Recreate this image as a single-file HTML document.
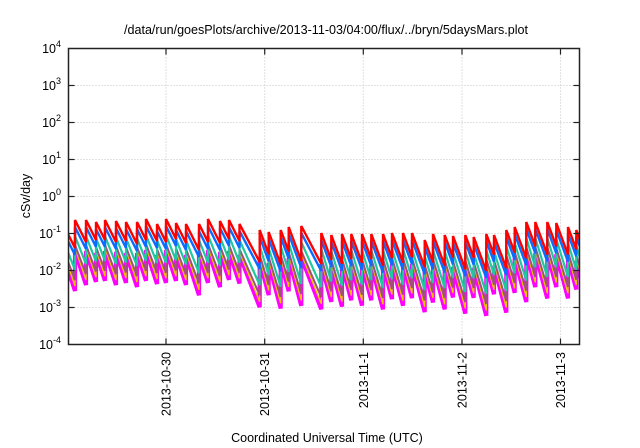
<!DOCTYPE html>
<html>
<head>
<meta charset="utf-8">
<style>
  html,body{margin:0;padding:0;background:#fff;}
  svg{display:block;}
  text{font-family:"Liberation Sans", Arial, sans-serif; fill:#000;}
</style>
</head>
<body>
<svg id="chart" width="640" height="448" viewBox="0 0 640 448" xmlns="http://www.w3.org/2000/svg">
  <rect x="0" y="0" width="640" height="448" fill="#fff"/>
  <defs>
    <clipPath id="plotclip"><rect x="68.5" y="48.5" width="511" height="296"/></clipPath>
  </defs>

  <!-- title -->
  <text x="326" y="34" text-anchor="middle" font-size="12.5" textLength="404" lengthAdjust="spacingAndGlyphs">/data/run/goesPlots/archive/2013-11-03/04:00/flux/../bryn/5daysMars.plot</text>

  <!-- grid -->
  <g stroke="#c4c4c4" stroke-width="1" stroke-dasharray="1,2" fill="none">
    <line x1="68.5" x2="579.5" y1="85.5" y2="85.5"/>
    <line x1="68.5" x2="579.5" y1="122.5" y2="122.5"/>
    <line x1="68.5" x2="579.5" y1="159.5" y2="159.5"/>
    <line x1="68.5" x2="579.5" y1="196.5" y2="196.5"/>
    <line x1="68.5" x2="579.5" y1="233.5" y2="233.5"/>
    <line x1="68.5" x2="579.5" y1="270.5" y2="270.5"/>
    <line x1="68.5" x2="579.5" y1="307.5" y2="307.5"/>
    <line x1="166" x2="166" y1="48.5" y2="344.5"/>
    <line x1="264.7" x2="264.7" y1="48.5" y2="344.5"/>
    <line x1="363.3" x2="363.3" y1="48.5" y2="344.5"/>
    <line x1="462" x2="462" y1="48.5" y2="344.5"/>
    <line x1="560.5" x2="560.5" y1="48.5" y2="344.5"/>
  </g>

  <!-- data -->
  <g id="data" clip-path="url(#plotclip)" fill="none" stroke-linejoin="miter" stroke-linecap="butt"></g>

  <!-- ticks -->
  <g stroke="#222" stroke-width="1.2">
    <line x1="68.5" x2="74.5" y1="85.5" y2="85.5"/><line x1="579.5" x2="573.5" y1="85.5" y2="85.5"/>
    <line x1="68.5" x2="74.5" y1="122.5" y2="122.5"/><line x1="579.5" x2="573.5" y1="122.5" y2="122.5"/>
    <line x1="68.5" x2="74.5" y1="159.5" y2="159.5"/><line x1="579.5" x2="573.5" y1="159.5" y2="159.5"/>
    <line x1="68.5" x2="74.5" y1="196.5" y2="196.5"/><line x1="579.5" x2="573.5" y1="196.5" y2="196.5"/>
    <line x1="68.5" x2="74.5" y1="233.5" y2="233.5"/><line x1="579.5" x2="573.5" y1="233.5" y2="233.5"/>
    <line x1="68.5" x2="74.5" y1="270.5" y2="270.5"/><line x1="579.5" x2="573.5" y1="270.5" y2="270.5"/>
    <line x1="68.5" x2="74.5" y1="307.5" y2="307.5"/><line x1="579.5" x2="573.5" y1="307.5" y2="307.5"/>
    <line x1="166" x2="166" y1="344.5" y2="338.5"/><line x1="166" x2="166" y1="48.5" y2="54.5"/>
    <line x1="264.7" x2="264.7" y1="344.5" y2="338.5"/><line x1="264.7" x2="264.7" y1="48.5" y2="54.5"/>
    <line x1="363.3" x2="363.3" y1="344.5" y2="338.5"/><line x1="363.3" x2="363.3" y1="48.5" y2="54.5"/>
    <line x1="462" x2="462" y1="344.5" y2="338.5"/><line x1="462" x2="462" y1="48.5" y2="54.5"/>
    <line x1="560.5" x2="560.5" y1="344.5" y2="338.5"/><line x1="560.5" x2="560.5" y1="48.5" y2="54.5"/>
  </g>

  <!-- frame -->
  <rect x="68.5" y="48.5" width="511" height="296" fill="none" stroke="#222" stroke-width="1.5"/>

  <!-- y tick labels -->
  <g font-size="12.5" text-anchor="end">
    <text x="61" y="53">10<tspan dy="-6" font-size="9">4</tspan></text>
    <text x="61" y="90">10<tspan dy="-6" font-size="9">3</tspan></text>
    <text x="61" y="127">10<tspan dy="-6" font-size="9">2</tspan></text>
    <text x="61" y="164">10<tspan dy="-6" font-size="9">1</tspan></text>
    <text x="61" y="201">10<tspan dy="-6" font-size="9">0</tspan></text>
    <text x="61" y="238">10<tspan dy="-6" font-size="9">-1</tspan></text>
    <text x="61" y="275">10<tspan dy="-6" font-size="9">-2</tspan></text>
    <text x="61" y="312">10<tspan dy="-6" font-size="9">-3</tspan></text>
    <text x="61" y="349">10<tspan dy="-6" font-size="9">-4</tspan></text>
  </g>

  <!-- y label -->
  <text transform="translate(30,196) rotate(-90)" text-anchor="middle" font-size="12.5">cSv/day</text>

  <!-- x tick labels -->
  <g font-size="12.5" text-anchor="end">
    <text transform="translate(170.5,352) rotate(-90)">2013-10-30</text>
    <text transform="translate(269.2,352) rotate(-90)">2013-10-31</text>
    <text transform="translate(367.8,352) rotate(-90)">2013-11-1</text>
    <text transform="translate(466.5,352) rotate(-90)">2013-11-2</text>
    <text transform="translate(565,352) rotate(-90)">2013-11-3</text>
  </g>

  <!-- x label -->
  <text x="327" y="442" text-anchor="middle" font-size="12.5">Coordinated Universal Time (UTC)</text>
</svg>

<script>
(function(){
  var peaks=[[64,226],[75,220],[86,220],[96,222],[105,220],[116,221],[126,222],[137,222],[146,219],[157,224],[166,219],[176,223],[186,224],[199,224],[208,219],[220,221],[229,220],[239.5,224],[259.7,230],[268.7,232],[280.7,230],[288.7,227],[301.3,226],[321.3,233],[331.3,235],[342,234],[351.3,234],[362,234],[371.3,234],[383,234],[392,233],[403,233],[412,233],[424.7,240],[433,234],[444.7,235],[453,236],[465.3,235],[473.7,237],[486.3,234],[494,235],[506.3,230],[514.7,227],[526.3,222],[535.3,222],[547.3,222],[556.3,223],[568,227],[576.3,230],[588,228]];
  var series=[
    {c:'#ff00ff',w:4.2,a:31,b:43},
    {c:'#e8c400',w:1.4,a:28,b:38},
    {c:'#a0507a',w:2,a:25,b:32},
    {c:'#1fc89e',w:2.2,a:16,b:22},
    {c:'#0a6cff',w:2.4,a:7,b:7},
    {c:'#ff0000',w:2.4,a:0,b:0}
  ];
  var g=document.getElementById('data');
  var ns='http://www.w3.org/2000/svg';
  series.forEach(function(s){
    var d='';
    for(var k=0;k<peaks.length-1;k++){
      var x0=peaks[k][0],P=peaks[k][1],x1=peaks[k+1][0];
      var len=x1-x0;
      var slope = x0<250 ? 2.0 : 2.7;
      var T=P+Math.min(slope*len,38);
      var off=s.a+(s.b-s.a)*Math.min(len,13)/11;
      d+=(k===0?'M':'L')+x0.toFixed(1)+','+(P+s.a).toFixed(1)+' L'+x1.toFixed(1)+','+(T+off).toFixed(1)+' ';
    }
    var last=peaks[peaks.length-1];
    d+='L'+last[0]+','+(last[1]+s.a);
    var p=document.createElementNS(ns,'path');
    p.setAttribute('d',d);
    p.setAttribute('stroke',s.c);
    p.setAttribute('stroke-width',s.w);
    p.setAttribute('fill','none');
    g.appendChild(p);
  });
})();
</script>
</body>
</html>
